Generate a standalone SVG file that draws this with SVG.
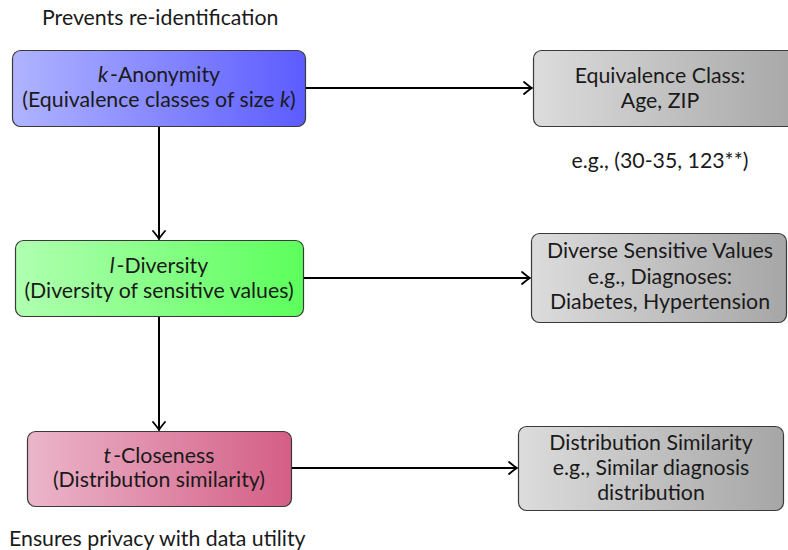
<svg xmlns="http://www.w3.org/2000/svg" width="788" height="550" viewBox="0 0 788 550">
<style>
text{font-family:Lato,"Open Sans","DejaVu Sans",sans-serif;font-size:21.3px;fill:#1a1a1a}
.c{text-anchor:middle}
.box{stroke:#3a3a3a;stroke-width:1.2}
.edge{stroke:#000;stroke-width:2;fill:none}
</style>
<defs>
<linearGradient id="gBlue" x1="0" x2="1" y1="0" y2="0"><stop offset="0" stop-color="#b0b4ff"/><stop offset="1" stop-color="#5c5cff"/></linearGradient>
<linearGradient id="gGreen" x1="0" x2="1" y1="0" y2="0"><stop offset="0" stop-color="#b0ffb0"/><stop offset="1" stop-color="#5cff5c"/></linearGradient>
<linearGradient id="gRed" x1="0" x2="1" y1="0" y2="0"><stop offset="0" stop-color="#ebb6ca"/><stop offset="1" stop-color="#d45e86"/></linearGradient>
<linearGradient id="gGray" x1="0" x2="1" y1="0" y2="0"><stop offset="0" stop-color="#dcdcdc"/><stop offset="1" stop-color="#a6a6a6"/></linearGradient>
<marker id="arr" viewBox="-10 -7 12 14" refX="0" refY="0" markerWidth="12" markerHeight="14" markerUnits="userSpaceOnUse" orient="auto">
<path d="M-8,-6 Q-2,-1 0,0 Q-2,1 -8,6" fill="none" stroke="#000" stroke-width="1.8" stroke-linecap="round"/>
</marker>
</defs>
<text x="42" y="25">Prevents re-identification</text>
<text x="9" y="546">Ensures privacy with data utility</text>
<g id="connectors">
<path class="edge" d="M306,88 H532" marker-end="url(#arr)"/>
<path class="edge" d="M159,127 V239" marker-end="url(#arr)"/>
<path class="edge" d="M303,278 H530" marker-end="url(#arr)"/>
<path class="edge" d="M159,316 V430" marker-end="url(#arr)"/>
<path class="edge" d="M291,468 H517" marker-end="url(#arr)"/>
</g>
<g id="kAnonymity">
<rect class="box" x="12.5" y="50.5" width="293" height="76" rx="8" fill="url(#gBlue)"/>
<text class="c" x="159" y="82"><tspan font-style="italic">k</tspan><tspan dx="2">-Anonymity</tspan></text>
<text class="c" x="159" y="107">(Equivalence classes of size <tspan font-style="italic">k</tspan>)</text>
</g>
<g id="equivClass">
<rect class="box" x="533.5" y="50.5" width="270" height="76" rx="8" fill="url(#gGray)"/>
<text class="c" x="660" y="83">Equivalence Class:</text>
<text class="c" x="660" y="108">Age, ZIP</text>
</g>
<text class="c" x="660" y="168">e.g., (30-35, 123**)</text>
<g id="lDiversity">
<rect class="box" x="15.5" y="240.5" width="288" height="76" rx="8" fill="url(#gGreen)"/>
<text class="c" x="159" y="273"><tspan font-style="italic">l</tspan><tspan dx="2">-Diversity</tspan></text>
<text class="c" x="159" y="298">(Diversity of sensitive values)</text>
</g>
<g id="diverseValues">
<rect class="box" x="531.5" y="233.5" width="255" height="89" rx="8" fill="url(#gGray)"/>
<text class="c" x="660" y="258">Diverse Sensitive Values</text>
<text class="c" x="660" y="284">e.g., Diagnoses:</text>
<text class="c" x="660" y="309">Diabetes, Hypertension</text>
</g>
<g id="tCloseness">
<rect class="box" x="27.5" y="431.5" width="264" height="75" rx="8" fill="url(#gRed)"/>
<text class="c" x="159" y="463"><tspan font-style="italic">t</tspan><tspan dx="2">-Closeness</tspan></text>
<text class="c" x="159" y="487">(Distribution similarity)</text>
</g>
<g id="distSimilarity">
<rect class="box" x="518.5" y="426.5" width="265" height="84" rx="8" fill="url(#gGray)"/>
<text class="c" x="651" y="450">Distribution Similarity</text>
<text class="c" x="651" y="475">e.g., Similar diagnosis</text>
<text class="c" x="651" y="500">distribution</text>
</g>
</svg>
